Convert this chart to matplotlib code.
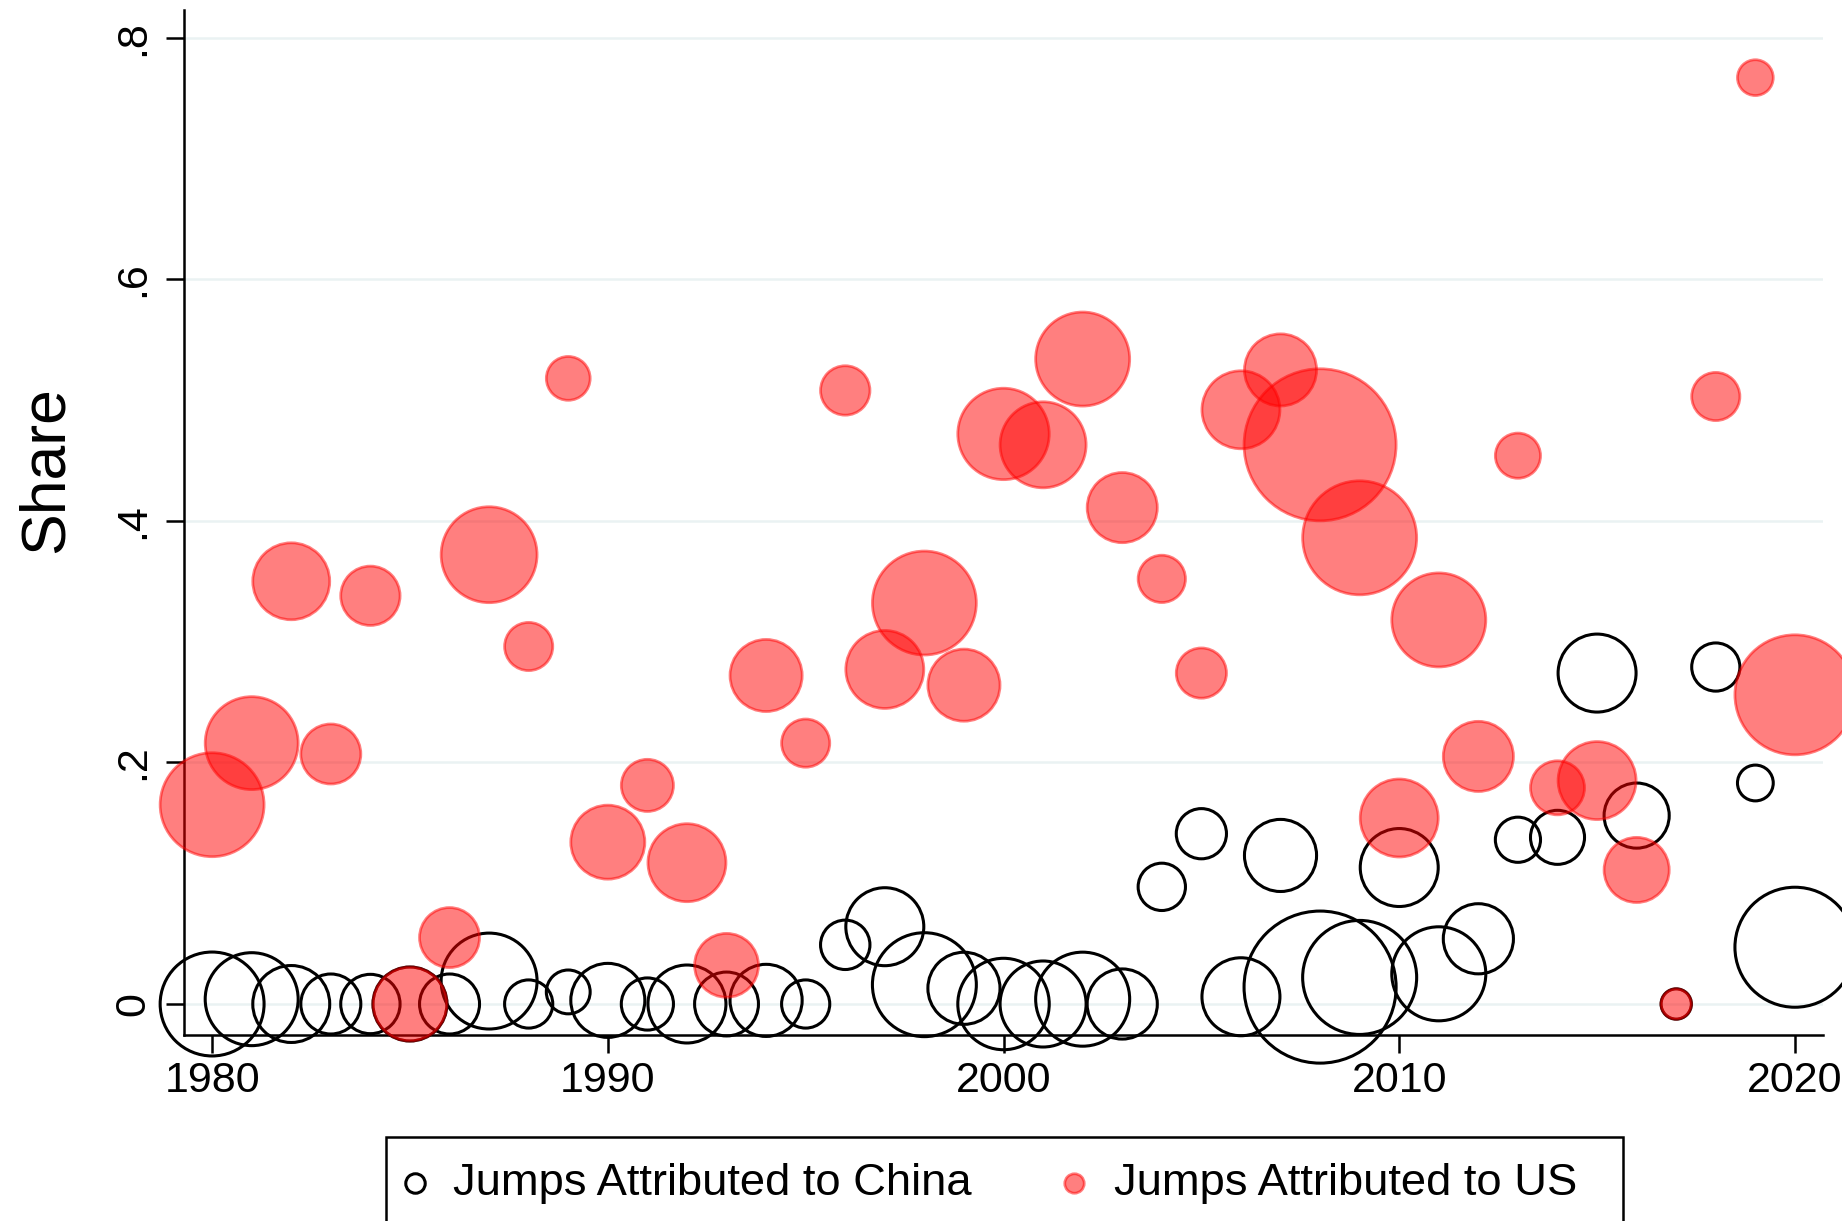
import matplotlib
matplotlib.use('Agg')
import matplotlib.pyplot as plt
import numpy as np
from matplotlib.lines import Line2D
from matplotlib.patches import Rectangle

plt.rcParams['font.family'] = ['Liberation Sans', 'DejaVu Sans']

years = np.arange(1980, 2021)

# relative bubble weight per year (area), same for both series
weight = [27.0, 21.6, 14.8, 9.0, 8.8, 13.7, 9.0, 23.0, 5.8, 4.8,
          13.7, 6.8, 15.2, 10.2, 13.0, 5.8, 6.1, 15.2, 27.0, 13.0,
          20.9, 18.5, 22.1, 12.3, 5.6, 6.3, 15.2, 13.0, 57.8, 32.5,
          15.2, 22.1, 12.3, 5.1, 7.3, 15.2, 10.6, 2.3, 5.8, 3.2,
          36.0]

china_share = [0.0, 0.004, 0.0, 0.0, 0.0, 0.0, 0.0, 0.019, 0.0, 0.01,
               0.003, 0.0, 0.0, 0.0, 0.003, 0.0, 0.049, 0.064, 0.016, 0.013,
               0.0, 0.0, 0.004, 0.0, 0.097, 0.141, 0.006, 0.123, 0.014, 0.022,
               0.113, 0.025, 0.054, 0.136, 0.138, 0.274, 0.156, 0.0, 0.279, 0.183,
               0.047]

us_share = [0.165, 0.216, 0.35, 0.207, 0.338, 0.0, 0.055, 0.372, 0.296, 0.518,
            0.134, 0.181, 0.117, 0.032, 0.272, 0.216, 0.508, 0.277, 0.332, 0.264,
            0.472, 0.463, 0.534, 0.411, 0.352, 0.274, 0.492, 0.525, 0.463, 0.386,
            0.154, 0.318, 0.205, 0.454, 0.179, 0.185, 0.111, 0.0, 0.503, 0.767,
            0.256]

y_ticks = [0, 0.2, 0.4, 0.6, 0.8]
y_ticklabels = ['0', '.2', '.4', '.6', '.8']
x_ticks = [1980, 1990, 2000, 2010, 2020]

DPI = 100
fig = plt.figure(figsize=(18.42, 12.21), dpi=DPI)
ax = fig.add_axes([0.0999, 0.1523, 0.8898, 0.8395])

# bubble area from weight: radius in px = 10*sqrt(w)
w = np.array(weight)
sizes = (2 * 10 * np.sqrt(w) * 72 / DPI) ** 2

for yv in y_ticks:
    ax.axhline(yv, color='#eaf2f3', lw=1.8, zorder=0)

ax.scatter(years, china_share, s=sizes, facecolors='none', edgecolors='black',
           linewidths=2.2, clip_on=False, zorder=2)
ax.scatter(years, us_share, s=sizes, color='red', alpha=0.5,
           linewidths=2.0, clip_on=False, zorder=3)

ax.set_xlim(1979.29, 2020.71)
ax.set_ylim(-0.0257, 0.823)
ax.set_xticks(x_ticks)
ax.set_yticks(y_ticks)
ax.set_yticklabels(y_ticklabels, rotation=90, va='center')
ax.tick_params(axis='both', length=13, width=1.8, labelsize=31)
ax.tick_params(axis='x', pad=6)
ax.tick_params(axis='y', pad=9)
for side in ['top', 'right']:
    ax.spines[side].set_visible(False)
for side in ['left', 'bottom']:
    ax.spines[side].set_linewidth(1.8)
ax.set_ylabel('Share', fontsize=45)
ax.yaxis.set_label_coords(-0.066, 0.552)

# legend box (bottom edge runs off the figure as in the original)
fig.patches.append(Rectangle((386 / 1842, -0.05), (1623 - 386) / 1842, 0.05 + (1221 - 1137) / 1221,
                             transform=fig.transFigure, fill=False, edgecolor='black', lw=1.8))
ly = 1 - 1183 / 1221
fig.lines.append(Line2D([415 / 1842], [ly], transform=fig.transFigure, marker='o', ms=14,
                        mfc='none', mec='black', mew=2.2, ls='none'))
fig.lines.append(Line2D([1074 / 1842], [ly], transform=fig.transFigure, marker='o', ms=14,
                        mfc=(1, 0, 0, 0.5), mec=(1, 0, 0, 0.5), mew=2.0, ls='none'))
fig.text(453 / 1842, ly, 'Jumps Attributed to China', fontsize=32.7, va='center', ha='left')
fig.text(1114 / 1842, ly, 'Jumps Attributed to US', fontsize=32.7, va='center', ha='left')

fig.savefig('out.png', dpi=DPI)
